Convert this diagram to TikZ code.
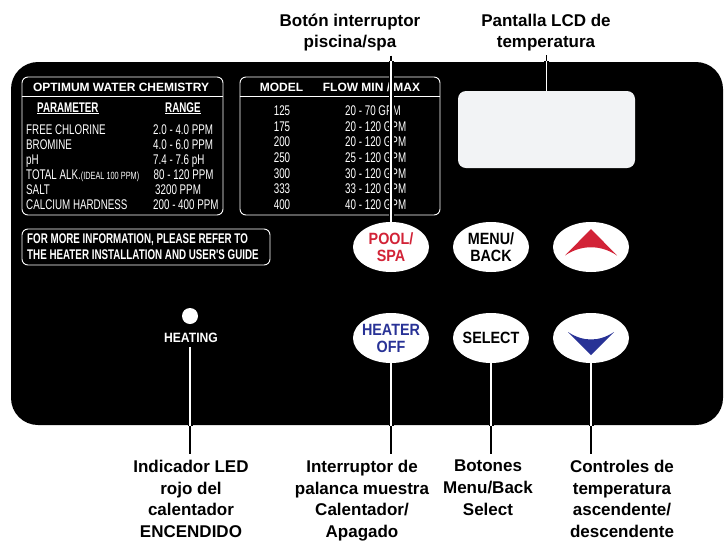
\documentclass[tikz,border=0pt]{standalone}
\usepackage{fontspec}
\setmainfont{Liberation Sans}
\newfontfamily\condfont{Liberation Sans}[FakeStretch=0.70]
\newfontfamily\btnfont{Liberation Sans}[FakeStretch=0.88]
\newfontfamily\heatfont{Liberation Sans}[FakeStretch=0.9]
\usetikzlibrary{shapes.geometric,calc}
\definecolor{btnred}{RGB}{210,35,55}
\definecolor{btnblue}{RGB}{40,50,150}
\definecolor{lcdgrey}{RGB}{242,243,245}
\begin{document}
\begin{tikzpicture}[x=1pt,y=-1pt,
 callout/.style={font=\fontsize{17}{21.7}\selectfont\bfseries, align=center, inner sep=0pt},
 tabtxt/.style={font=\condfont\fontsize{14}{15}\selectfont, text=white, inner sep=0pt, anchor=base west},
 tabhead/.style={font=\fontsize{12}{14}\selectfont\bfseries, text=white, inner sep=0pt, anchor=base},
 subhead/.style={font=\condfont\fontsize{14}{15}\selectfont\bfseries, text=white, inner sep=0pt, anchor=base west},
 whitebox/.style={draw=white, line width=0.9pt, rounded corners=6pt, inner sep=0pt},
 btn/.style={ellipse, fill=white, minimum width=76pt, minimum height=50pt, inner sep=0pt},
 btntxt/.style={font=\btnfont\fontsize{16.3}{17}\selectfont\bfseries, align=center, inner sep=0pt},
 leaderout/.style={draw=black, line width=1.3pt},
 leadercase/.style={draw=black, line width=5pt},
 leaderin/.style={draw=white, line width=1.3pt}]
\useasboundingbox (0,0) rectangle (724,542);
\fill[white] (0,0) rectangle (724,542);

% panel
\node[fill=black, rounded corners=27pt, minimum width=712pt, minimum height=363pt, inner sep=0pt] (panel) at (367,243.5) {};

% chemistry table
\node[whitebox, minimum width=201pt, minimum height=138pt] (chem) at (122.5,146) {};
\draw[white, line width=0.9pt] (chem.west |- 0,96.5) -- (chem.east |- 0,96.5);
\node[tabhead] (chemhead) at (121,91.3) {OPTIMUM WATER CHEMISTRY};
\node[subhead] (parhead) at (37,112) {PARAMETER};
\node[subhead] (rangehead) at (165,112) {RANGE};
\draw[white, line width=0.9pt] ([yshift=-1.8pt]parhead.base west) -- ([yshift=-1.8pt]parhead.base east);
\draw[white, line width=0.9pt] ([yshift=-1.8pt]rangehead.base west) -- ([yshift=-1.8pt]rangehead.base east);
\node[tabtxt] (p1) at (26,134.5) {FREE CHLORINE};
\node[tabtxt] (p2) at (26,149.5) {BROMINE};
\node[tabtxt] (p3) at (26,164.5) {pH};
\node[tabtxt] (p4) at (26,179.5) {TOTAL ALK.{\fontsize{10.5}{12}\selectfont(IDEAL 100 PPM)}};
\node[tabtxt] (p5) at (26,194.5) {SALT};
\node[tabtxt] (p6) at (26,209.5) {CALCIUM HARDNESS};
\node[tabtxt] (r1) at (153,134.5) {2.0 - 4.0 PPM};
\node[tabtxt] (r2) at (153,149.5) {4.0 - 6.0 PPM};
\node[tabtxt] (r3) at (153,164.5) {7.4 - 7.6 pH};
\node[tabtxt] (r4) at (153.5,179.5) {80 - 120 PPM};
\node[tabtxt] (r5) at (155,194.5) {3200 PPM};
\node[tabtxt] (r6) at (153,209.5) {200 - 400 PPM};

% model table
\node[whitebox, minimum width=200pt, minimum height=138pt] (model) at (340,146) {};
\draw[white, line width=0.9pt] (model.west |- 0,96) -- (model.east |- 0,96);
\node[tabhead] (modhead) at (281.5,91.3) {MODEL};
\node[tabhead] (flowhead) at (371.5,91.3) {FLOW MIN / MAX};
\foreach \m/\f/\y [count=\i] in {125/20 - 70 GPM/115.5, 175/20 - 120 GPM/131.2, 200/20 - 120 GPM/146.8,
  250/25 - 120 GPM/162.5, 300/30 - 120 GPM/178.2, 333/33 - 120 GPM/193.8, 400/40 - 120 GPM/209.5}
{
  \node[tabtxt, anchor=base] (m\i) at (282,\y) {\m};
  \node[tabtxt] (f\i) at (345,\y) {\f};
}

% note box
\node[whitebox, minimum width=248pt, minimum height=36pt] (note) at (146,247) {};
\node[subhead, font=\condfont\fontsize{14}{15}\selectfont\bfseries] (note1) at (27,243.5) {FOR MORE INFORMATION, PLEASE REFER TO};
\node[subhead, font=\condfont\fontsize{14}{15}\selectfont\bfseries] (note2) at (27,259.5) {THE HEATER INSTALLATION AND USER'S GUIDE};

% LCD
\node[fill=lcdgrey, rounded corners=8pt, minimum width=177pt, minimum height=77pt, inner sep=0pt] (lcd) at (546.5,129.5) {};

% buttons
\node[btn] (pool) at (391,247) {};
\node[btn] (menu) at (491,247) {};
\node[btn] (up) at (591,247) {};
\node[btn] (heater) at (391,338) {};
\node[btn] (select) at (491,338) {};
\node[btn] (down) at (591,338) {};
\node[btntxt, text=btnred] (pooltxt) at (pool) {POOL/\\SPA};
\node[btntxt] (menutxt) at (menu) {MENU/\\BACK};
\node[btntxt, text=btnblue] (heatertxt) at (heater) {HEATER\\OFF};
\node[btntxt] (selecttxt) at (select) {SELECT};
\begin{scope}[shift={(up.center)}]
  \fill[btnred] (0,-18) -- (26,8.5) .. controls (10,-2.5) and (-10,-2.5) .. (-26,8.5) -- cycle;
\end{scope}
\begin{scope}[shift={(down.center)}]
  \fill[btnblue] (-23,-6) .. controls (-8,4) and (8,4) .. (23,-6) -- (0,17) -- cycle;
\end{scope}

% LED
\node[circle, fill=white, minimum size=16pt, inner sep=0pt] (led) at (190,316) {};
\node[font=\heatfont\fontsize{13.5}{15}\selectfont\bfseries, text=white, inner sep=0pt] (heat) at (191,338) {HEATING};

% callouts
\node[callout, anchor=north] (lblpool) at (350,13.5) {Botón interruptor\\piscina/spa};
\node[callout, anchor=north] (lbllcd) at (546,13.5) {Pantalla LCD de\\temperatura};
\node[callout, anchor=north] (lblled) at (191,460) {Indicador LED\\rojo del\\calentador\\ENCENDIDO};
\node[callout, anchor=north] (lblheater) at (362,460) {Interruptor de\\palanca muestra\\Calentador/\\Apagado};
\node[callout, anchor=north] (lblsel) at (488,460) {Botones\\Menu/Back\\Select};
\node[callout, anchor=north] (lbltemp) at (622,460) {Controles de\\temperatura\\ascendente/\\descendente};

% leader end points
\coordinate (ls1) at ($(pool.north |- lblpool.south)+(0,4)$);
\coordinate (ls2) at ($(lcd.north |- lbllcd.south)+(0,4)$);
\coordinate (ls3) at ($(led.south |- heat.south)+(0,4)$);
\coordinate (le3) at ($(led.south |- lblled.north)+(0,-6)$);
\coordinate (le4) at ($(heater.south |- lblheater.north)+(0,-6)$);
\coordinate (le5) at ($(select.south |- lblsel.north)+(0,-6)$);
\coordinate (le6) at ($(down.south |- lbltemp.north)+(0,-6)$);

\foreach \s/\e in {ls1/pool.north, ls2/lcd.north, ls3/le3, heater.south/le4, select.south/le5, down.south/le6}
  {\draw[leaderout] (\s) -- (\e);}
\begin{scope}
  \clip (panel.north west) rectangle (panel.south east);
  \foreach \s/\e in {ls1/pool.north, ls2/lcd.north, ls3/le3, heater.south/le4, select.south/le5, down.south/le6}
    {\draw[leadercase] (\s) -- (\e); \draw[leaderin] (\s) -- (\e);}
\end{scope}
\end{tikzpicture}
\end{document}
